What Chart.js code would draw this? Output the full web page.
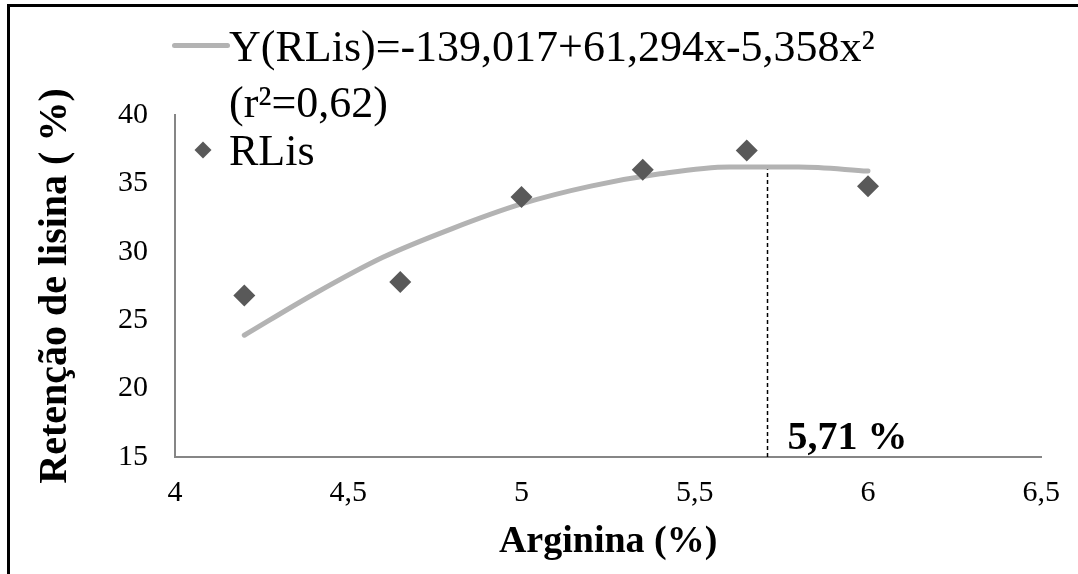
<!DOCTYPE html>
<html>
<head>
    <meta charset="utf-8">
    <title>Retenção de lisina x Arginina</title>
    <script src="https://cdn.jsdelivr.net/npm/chart.js"></script>
    <style>
        body { margin: 0; background: #fff; }
        .wrap { position: relative; width: 1078px; height: 574px; overflow: hidden; }
        .frame {
            position: absolute; left: 7px; top: 4px; width: 1100px; height: 600px;
            border: 3px solid #000; box-sizing: border-box; pointer-events: none;
        }
        .legend { position: absolute; font-family: "Liberation Serif", serif; font-size: 44px; color: #000; line-height: 1; white-space: nowrap; }
        .sym-line { position: absolute; left: 172px; top: 43px; width: 58px; height: 5px; background: #b3b3b3; border-radius: 3px; }
        .sym-dia { position: absolute; left: 197px; top: 144px; width: 12px; height: 12px; background: #595959; transform: rotate(45deg); }
    </style>
</head>
<body>
<div class="wrap">
    <canvas id="chart" width="1078" height="574"></canvas>
    <div class="frame"></div>
    <div class="sym-line"></div>
    <div class="legend" style="left:229px; top:25px;">Y(RLis)=-139,017+61,294x-5,358x²</div>
    <div class="legend" style="left:229px; top:81px;">(r²=0,62)</div>
    <div class="sym-dia"></div>
    <div class="legend" style="left:229px; top:129px;">RLis</div>
</div>

<script>
    // observed points
    const arginina = [4.2, 4.65, 5.0, 5.35, 5.65, 6.0];
    const rlis = [26.8, 27.8, 34.0, 36.0, 37.4, 34.8];

    // fitted curve
    const fitX = [4.2, 4.4, 4.6, 4.8, 5.0, 5.2, 5.4, 5.6, 5.8, 6.0];
    const fitY = [23.9, 26.9, 29.6, 31.7, 33.5, 34.8, 35.7, 36.2, 36.2, 35.9];

    // optimum marker
    const optX = [5.71, 5.71];
    const optY = [15, 36.3];
    const optLabel = '5,71 %';

    const xTicks = [4, 4.5, 5, 5.5, 6, 6.5];
    const yTicks = [15, 20, 25, 30, 35, 40];

    const serif = 'Liberation Serif';
    const axisColor = '#868686';

    const toPts = (xs, ys) => xs.map((x, i) => ({ x: x, y: ys[i] }));

    const optLabelPlugin = {
        id: 'optLabel',
        afterDatasetsDraw(chart) {
            const ctx = chart.ctx;
            const xs = chart.scales.x;
            const ys = chart.scales.y;
            ctx.save();
            ctx.font = 'bold 40px "' + serif + '"';
            ctx.fillStyle = '#000';
            ctx.textBaseline = 'alphabetic';
            ctx.textAlign = 'left';
            ctx.fillText(optLabel, xs.getPixelForValue(optX[0]) + 20, ys.getPixelForValue(yTicks[0]) - 8);
            ctx.restore();
        }
    };

    new Chart(document.getElementById('chart').getContext('2d'), {
        type: 'scatter',
        data: {
            datasets: [
                {
                    label: 'RLis',
                    data: toPts(arginina, rlis),
                    pointStyle: 'rectRot',
                    pointRadius: 11,
                    pointBackgroundColor: '#595959',
                    pointBorderColor: '#595959',
                    pointBorderWidth: 0,
                    showLine: false,
                    order: 0
                },
                {
                    label: 'Y(RLis)',
                    data: toPts(fitX, fitY),
                    showLine: true,
                    borderColor: '#b3b3b3',
                    borderWidth: 5,
                    borderCapStyle: 'round',
                    cubicInterpolationMode: 'monotone',
                    pointRadius: 0,
                    order: 1
                },
                {
                    label: 'opt',
                    data: toPts(optX, optY),
                    showLine: true,
                    borderColor: '#000',
                    borderWidth: 1.5,
                    borderDash: [4, 3],
                    pointRadius: 0,
                    order: 2
                }
            ]
        },
        options: {
            responsive: false,
            animation: false,
            events: [],
            layout: { padding: { top: 115, right: 33, left: 0, bottom: 0 } },
            plugins: {
                legend: { display: false },
                tooltip: { enabled: false }
            },
            scales: {
                x: {
                    type: 'linear',
                    min: xTicks[0],
                    max: xTicks[xTicks.length - 1],
                    afterFit: (s) => { s.height = 117; },
                    afterBuildTicks: (s) => { s.ticks = xTicks.map(v => ({ value: v })); },
                    grid: { display: false, drawTicks: false },
                    border: { display: true, color: axisColor, width: 2 },
                    ticks: {
                        padding: 18,
                        color: '#000',
                        font: { family: serif, size: 30, lineHeight: 1.2 },
                        callback: (v) => String(v).replace('.', ',')
                    },
                    title: {
                        display: true,
                        text: 'Arginina (%)',
                        color: '#000',
                        font: { family: serif, size: 38, weight: 'bold', lineHeight: 1.2 },
                        padding: { top: 0, bottom: 9 }
                    }
                },
                y: {
                    min: yTicks[0],
                    max: yTicks[yTicks.length - 1],
                    afterFit: (s) => { s.width = 175; },
                    afterBuildTicks: (s) => { s.ticks = yTicks.map(v => ({ value: v })); },
                    grid: { display: false, drawTicks: false },
                    border: { display: true, color: axisColor, width: 2 },
                    ticks: {
                        padding: 27,
                        color: '#000',
                        font: { family: serif, size: 30 }
                    },
                    title: {
                        display: true,
                        text: 'Retenção de lisina ( %)',
                        color: '#000',
                        font: { family: serif, size: 40, weight: 'bold', lineHeight: 1.2 },
                        padding: { top: 32, bottom: 0 }
                    }
                }
            }
        },
        plugins: [optLabelPlugin]
    });
</script>
</body>
</html>
